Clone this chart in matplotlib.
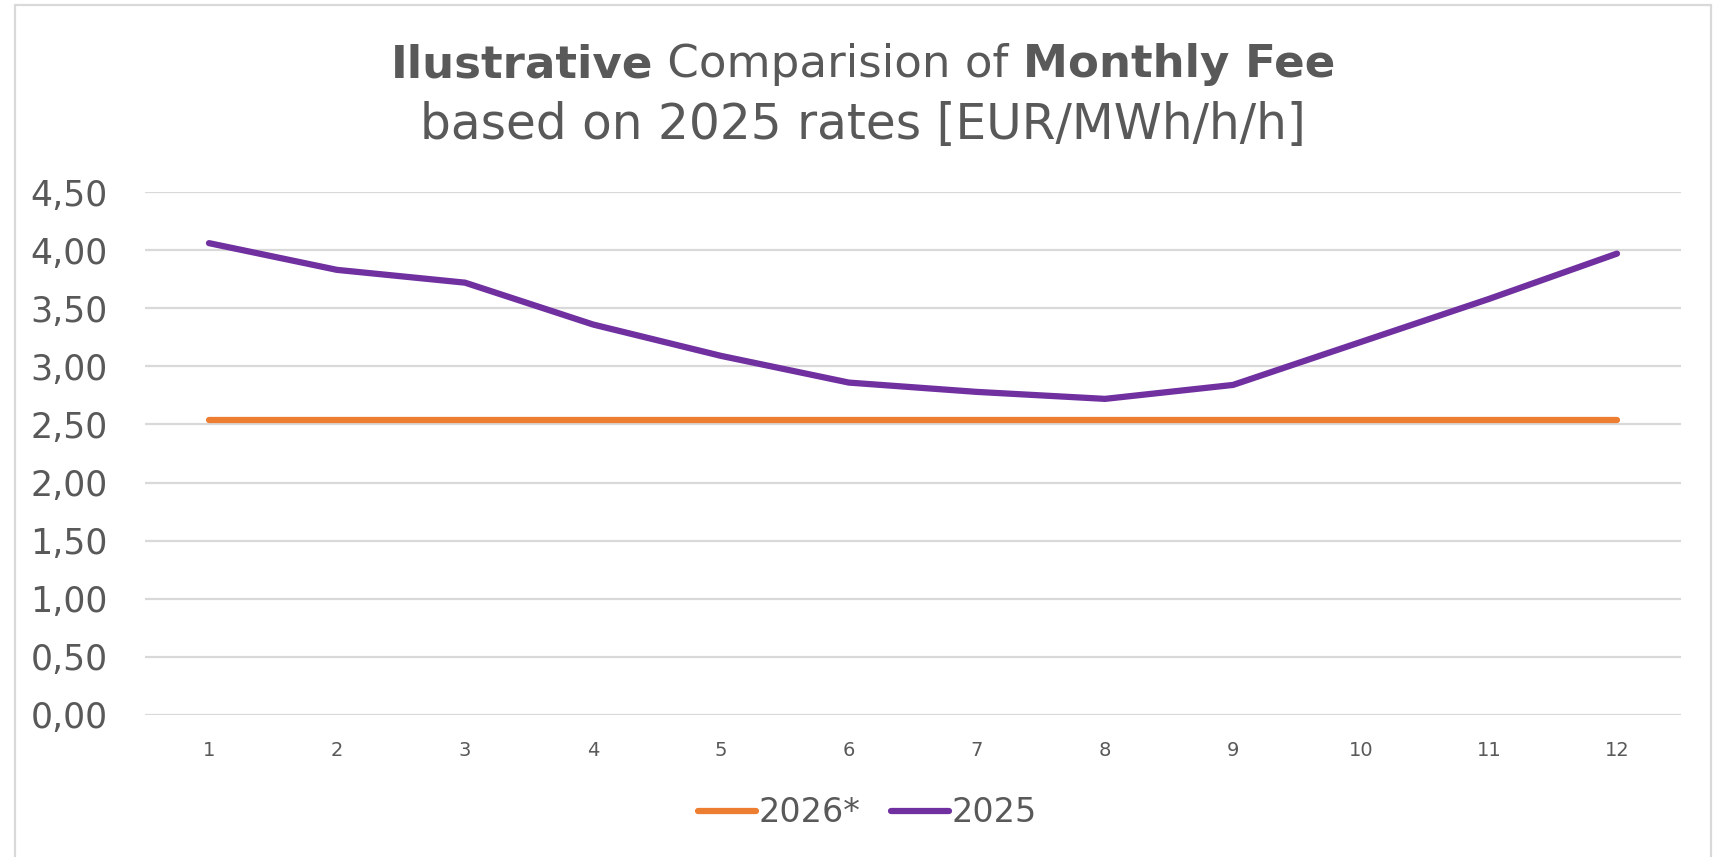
import matplotlib.pyplot as plt
from matplotlib.patches import Rectangle

months = [1, 2, 3, 4, 5, 6, 7, 8, 9, 10, 11, 12]
fee_2026 = [2.54] * 12
fee_2025 = [4.06, 3.83, 3.72, 3.36, 3.09, 2.86, 2.78, 2.72, 2.84, 3.21, 3.58, 3.97]
yticks = [0, 0.5, 1.0, 1.5, 2.0, 2.5, 3.0, 3.5, 4.0, 4.5]

grey = '#595959'
W, H = 1721, 857

fig = plt.figure(figsize=(W / 100, H / 100), dpi=100)
ax = fig.add_axes([145 / W, 1 - 715 / H, (1681 - 145) / W, (715 - 192) / H])

# chart frame
fig.patches.append(Rectangle((15 / W, -0.02), (1711 - 15) / W, 1.02 - 5 / H,
                             transform=fig.transFigure, fill=False,
                             edgecolor='#d9d9d9', linewidth=1.6))

ax.plot(months, fee_2026, color='#ed7d31', lw=4.5, solid_capstyle='round', label='2026*')
ax.plot(months, fee_2025, color='#7030a0', lw=4.5, solid_capstyle='round',
        solid_joinstyle='round', label='2025')

ax.set_xlim(0.5, 12.5)
ax.set_ylim(0, 4.5)
ax.set_xticks(months)
ax.set_xticklabels([str(m) for m in months])
ax.set_yticks(yticks)
ax.set_yticklabels([f'{v:.2f}'.replace('.', ',') for v in yticks])
ax.tick_params(axis='y', length=0, labelsize=25, labelcolor=grey, pad=27)
ax.tick_params(axis='x', length=0, labelsize=14, labelcolor=grey, pad=19)
ax.grid(axis='y', color='#d9d9d9', lw=1.6)
ax.set_axisbelow(True)
for s in ax.spines.values():
    s.set_visible(False)

fig.legend(loc='center', bbox_to_anchor=(0.504, 1 - 813 / H), ncol=2, frameon=False,
           fontsize=24, labelcolor=grey, handlelength=1.75, handletextpad=0.08,
           columnspacing=0.9)


def title_line(parts, y, size):
    texts = [fig.text(0, y, s, fontsize=size, fontweight=w, color=grey, va='baseline')
             for s, w in parts]
    fig.canvas.draw()
    r = fig.canvas.get_renderer()
    widths = [t.get_window_extent(r).width for t in texts]
    x = 863 - sum(widths) / 2
    for t, w in zip(texts, widths):
        t.set_x(x / W)
        x += w


title_line([('Ilustrative', 'bold'), (' Comparision of ', 'normal'),
            ('Monthly Fee', 'bold')], 1 - 77 / H, 32.5)
title_line([('based on 2025 rates [EUR/MWh/h/h]', 'normal')], 1 - 139 / H, 35)

fig.savefig('out.png', dpi=100)
